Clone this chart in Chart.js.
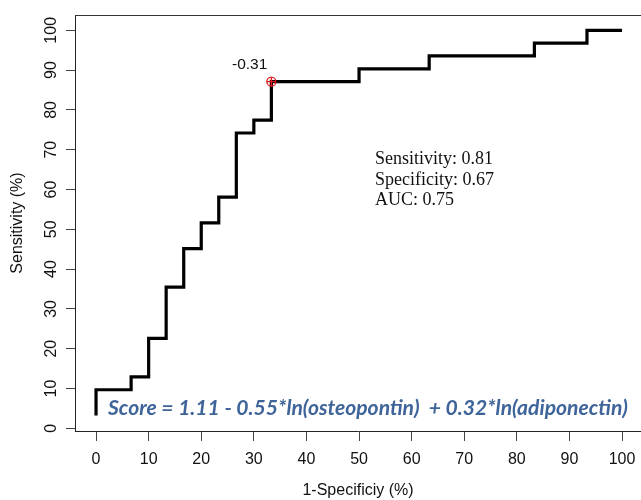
<!DOCTYPE html>
<html>
<head>
<meta charset="utf-8">
<script src="https://cdn.jsdelivr.net/npm/chart.js@4/dist/chart.umd.min.js"></script>
<style>
  html, body { margin: 0; padding: 0; background: #fff; }
  #wrap { width: 641px; height: 500px; }
</style>
</head>
<body>
<div id="wrap"><canvas id="roc" width="641" height="500"></canvas></div>
<script>
// ROC curve: 1 - specificity (%) vs sensitivity (%)
const fpr  = [0, 0, 6.67, 10, 13.33, 16.67, 20, 23.33, 26.67, 30, 33.33, 50, 63.33, 83.33, 93.33, 100];
const sens = [3.23, 9.68, 12.9, 22.58, 35.48, 45.16, 51.61, 58.06, 74.19, 77.42, 87.1, 90.32, 93.55, 96.77, 100, 100];

// best cut-off point on the curve
const cutFpr   = [33.33];
const cutSens  = [87.1];
const cutLabel = ["-0.31"];

const xTicks = [0, 10, 20, 30, 40, 50, 60, 70, 80, 90, 100];
const yTicks = [0, 10, 20, 30, 40, 50, 60, 70, 80, 90, 100];

const statLines = ["Sensitivity: 0.81", "Specificity: 0.67", "AUC: 0.75"];
const formula   = "Score = 1.11 - 0.55*ln(osteopontin)  + 0.32*ln(adiponectin)";

const AXIS_FONT = "Liberation Sans, Arial, sans-serif";

const rocPoints = fpr.map((x, i) => ({ x, y: sens[i] }));
const cutPoints = cutFpr.map((x, i) => ({ x, y: cutSens[i] }));

// top border line, rotated y labels, annotations
const extras = {
  id: "extras",
  afterDraw(chart) {
    const { ctx, chartArea } = chart;
    const xs = chart.scales.x, ys = chart.scales.y;
    ctx.save();

    // top frame line
    ctx.strokeStyle = "#333";
    ctx.lineWidth = 1;
    ctx.beginPath();
    ctx.moveTo(chartArea.left, chartArea.top + 0.5);
    ctx.lineTo(chartArea.right, chartArea.top + 0.5);
    ctx.stroke();

    // y tick labels, reading bottom to top
    ctx.fillStyle = "#111";
    ctx.font = "16px " + AXIS_FONT;
    ctx.textAlign = "center";
    ctx.textBaseline = "middle";
    yTicks.forEach(v => {
      const py = ys.getPixelForValue(v);
      ctx.save();
      ctx.translate(52, py);
      ctx.rotate(-Math.PI / 2);
      ctx.fillText(String(v), 0, 0);
      ctx.restore();
    });

    // cut-off label
    ctx.font = "15.5px " + AXIS_FONT;
    ctx.textAlign = "right";
    ctx.textBaseline = "alphabetic";
    cutPoints.forEach((p, i) => {
      ctx.fillText(cutLabel[i], xs.getPixelForValue(p.x) - 4, ys.getPixelForValue(p.y) - 13);
    });

    // summary statistics
    ctx.font = "18px Liberation Serif, serif";
    ctx.textAlign = "left";
    statLines.forEach((s, i) => ctx.fillText(s, 375, 164 + i * 20.7));

    // score formula
    let size = 20;
    ctx.font = "italic bold " + size + "px Lato, sans-serif";
    size = size * 520 / ctx.measureText(formula).width;
    ctx.font = "italic bold " + size.toFixed(2) + "px Lato, sans-serif";
    ctx.fillStyle = "#3e6499";
    ctx.fillText(formula, 108, 415);

    ctx.restore();
  }
};

new Chart(document.getElementById("roc"), {
  type: "line",
  data: {
    datasets: [
      {
        data: cutPoints,
        showLine: false,
        pointStyle: "circle",
        pointRadius: 4.5,
        pointBorderWidth: 1.3,
        pointBorderColor: "#e3181b",
        pointBackgroundColor: "rgba(0,0,0,0)",
        order: 0
      },
      {
        data: cutPoints,
        showLine: false,
        pointStyle: "cross",
        pointRadius: 4.5,
        pointBorderWidth: 1.3,
        pointBorderColor: "#e3181b",
        order: 0
      },
      {
        data: rocPoints,
        stepped: "before",
        borderColor: "#000",
        borderWidth: 3.2,
        borderJoinStyle: "miter",
        borderCapStyle: "butt",
        pointRadius: 0,
        fill: false,
        order: 1
      }
    ]
  },
  options: {
    responsive: false,
    animation: false,
    layout: { autoPadding: false, padding: { top: 15, left: 0, right: 0, bottom: 0 } },
    plugins: {
      legend: { display: false },
      tooltip: { enabled: false }
    },
    scales: {
      x: {
        type: "linear",
        position: "bottom",
        min: -4,
        max: 103.6,
        afterBuildTicks: s => { s.ticks = xTicks.map(v => ({ value: v })); },
        afterFit: s => { s.height = 69; s.paddingLeft = 0; s.paddingRight = 0; },
        border: { display: true, color: "#222", width: 1 },
        grid: { drawOnChartArea: false, drawTicks: true, tickLength: 10, color: "#444", lineWidth: 1 },
        ticks: {
          autoSkip: false,
          maxRotation: 0,
          padding: 9,
          color: "#111",
          font: { family: AXIS_FONT, size: 16 }
        },
        title: {
          display: true,
          text: "1-Specificiy (%)",
          color: "#111",
          padding: { top: 0, bottom: 0 },
          font: { family: AXIS_FONT, size: 16 }
        }
      },
      y: {
        type: "linear",
        position: "left",
        min: -0.68,
        max: 103.84,
        afterBuildTicks: s => { s.ticks = yTicks.map(v => ({ value: v })); },
        afterFit: s => { s.width = 75; s.paddingTop = 0; s.paddingBottom = 0; },
        border: { display: true, color: "#222", width: 1 },
        grid: { drawOnChartArea: false, drawTicks: true, tickLength: 9, color: "#444", lineWidth: 1 },
        ticks: { display: false },
        title: {
          display: true,
          text: "Sensitivity (%)",
          color: "#111",
          padding: { top: 8, bottom: 0 },
          font: { family: AXIS_FONT, size: 16 }
        }
      }
    }
  },
  plugins: [extras]
});
</script>
</body>
</html>
